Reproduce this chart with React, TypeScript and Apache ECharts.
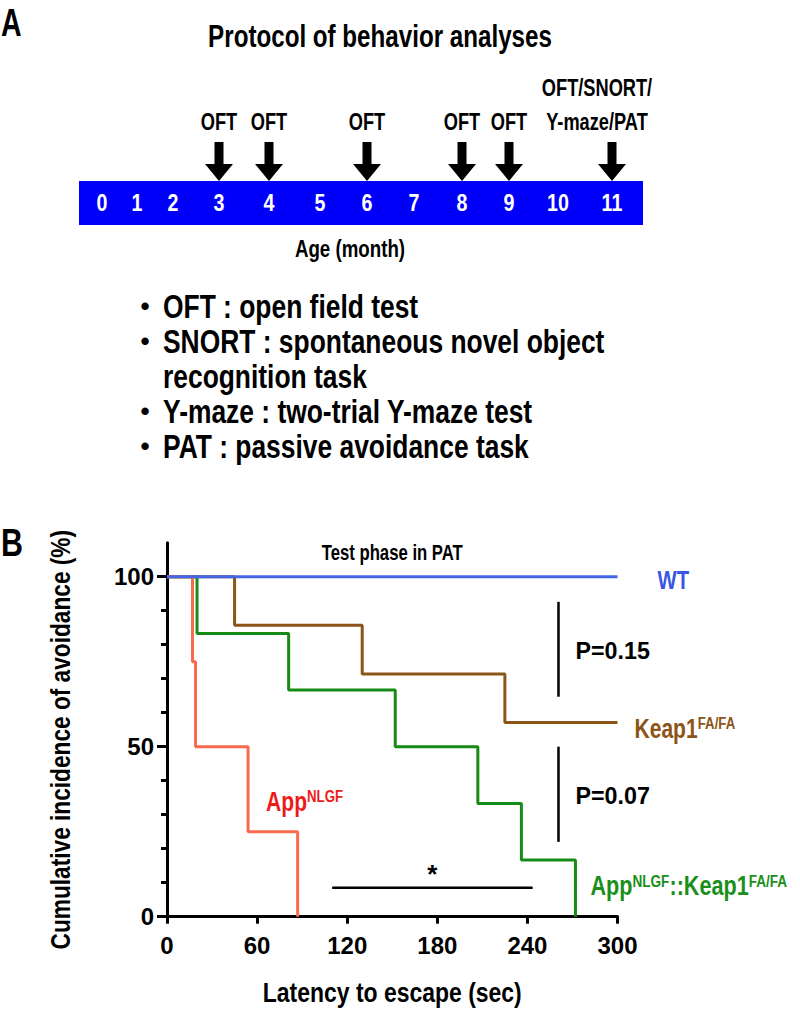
import React, { useEffect, useRef } from 'react';
import * as echarts from 'echarts';

// ---------- Data ----------
const MONTHS = ['0', '1', '2', '3', '4', '5', '6', '7', '8', '9', '10', '11'];
const TEST_MONTH_INDEX = [3, 4, 6, 8, 9, 11];
const TEST_LABELS = [['OFT'], ['OFT'], ['OFT'], ['OFT'], ['OFT'], ['OFT/SNORT/', 'Y-maze/PAT']];
const BULLETS = [
  ['OFT : open field test'],
  ['SNORT : spontaneous novel object', 'recognition task'],
  ['Y-maze : two-trial Y-maze test'],
  ['PAT : passive avoidance task'],
];
const X_TICKS = [0, 60, 120, 180, 240, 300];
const Y_MAJOR = [0, 50, 100];
const Y_MINOR = [10, 20, 30, 40, 60, 70, 80, 90];

const WT_T = [0, 300];
const WT_V = [100, 100];
const KEAP_T = [0, 45, 130, 225, 300];
const KEAP_V = [100, 85.7, 71.4, 57.1, 57.1];
const DBL_T = [0, 20, 81, 152, 207, 236, 272];
const DBL_V = [100, 83.3, 66.7, 50, 33.3, 16.7, 0];
const APP_T = [0, 17, 19, 54, 87];
const APP_V = [100, 75, 50, 25, 0];

const P_LABELS = ['P=0.15', 'P=0.07'];
const STAR = '*';

// ---------- Layout ----------
const MONTH_X = [102, 137, 173, 219, 269, 320, 367, 414, 462, 509, 558, 612];
const BULLET_Y = [306, 341, 376, 411, 446];

const WIDE = "'Liberation Sans', Arial, sans-serif";
const NARROW_SCALE = 0.78;

const C_WT = '#4566e6';
const C_KEAP = '#8c5417';
const C_DBL = '#168c16';
const C_APP = '#fc6a4e';

const zip = (a: number[], b: number[]) => a.map((v, i) => [v, b[i]]);

function txt(x: number, y: number, text: string, opts: any = {}) {
  const narrow = opts.narrow !== false;
  return {
    type: 'text',
    x,
    y,
    rotation: opts.rotation || 0,
    scaleX: narrow ? (opts.sx || NARROW_SCALE) : 1,
    silent: true,
    style: {
      text,
      fill: opts.fill || '#000',
      fontWeight: 'bold',
      fontSize: opts.size || 24,
      fontFamily: WIDE,
      align: opts.align || 'left',
      verticalAlign: opts.va || 'middle',
      rich: opts.rich,
    },
  };
}

function supRich(color: string, base = 27, sup = 17) {
  return {
    b: { fontSize: base, fontFamily: WIDE, fontWeight: 'bold', fill: color, color, lineHeight: 28, verticalAlign: 'middle' },
    s: { fontSize: sup, fontFamily: WIDE, fontWeight: 'bold', fill: color, color, lineHeight: 20, verticalAlign: 'top' },
  };
}

function panelA() {
  const g: any[] = [];
  g.push(txt(1, 4, 'A', { size: 38, va: 'top', sx: 0.75 }));
  g.push(txt(380, 36, 'Protocol of behavior analyses', { size: 31, align: 'center' }));
  TEST_MONTH_INDEX.forEach((mi, i) => {
    const cx = MONTH_X[mi];
    const lines = TEST_LABELS[i];
    const lx = lines.length > 1 ? cx - 15 : cx;
    lines.forEach((l, j) => {
      const y = 122 - (lines.length - 1 - j) * 34;
      g.push(txt(lx, y, l, { size: 24, align: 'center', sx: 0.76 }));
    });
    g.push({
      type: 'polygon',
      silent: true,
      shape: {
        points: [
          [cx - 4.5, 142], [cx + 4.5, 142], [cx + 4.5, 164], [cx + 14, 164],
          [cx, 181], [cx - 14, 164], [cx - 4.5, 164],
        ],
      },
      style: { fill: '#000' },
    });
  });
  g.push({ type: 'rect', silent: true, shape: { x: 79, y: 181, width: 564, height: 44 }, style: { fill: '#0000fa' } });
  MONTHS.forEach((m, i) => g.push(txt(MONTH_X[i], 203, m, { size: 24, align: 'center', fill: '#fff', sx: 0.82 })));
  g.push(txt(350, 249, 'Age (month)', { size: 24, align: 'center' }));
  let row = 0;
  BULLETS.forEach((lines) => {
    lines.forEach((l, j) => {
      if (j === 0) g.push(txt(145, BULLET_Y[row], '•', { size: 26, align: 'center', narrow: false }));
      g.push(txt(163, BULLET_Y[row], l, { size: 33, sx: 0.8 }));
      row++;
    });
  });
  g.push(txt(1, 524, 'B', { size: 38, va: 'top', sx: 0.8 }));
  return g;
}

export default function App() {
  const ref = useRef<HTMLDivElement>(null);
  useEffect(() => {
    document.body.style.margin = '0';
    if (!ref.current) return;
    const chart = echarts.init(ref.current, undefined, { renderer: 'svg' });
    const lineSeries = (name: string, t: number[], v: number[], color: string) => ({
      name,
      type: 'line',
      step: 'end',
      data: zip(t, v),
      symbol: 'none',
      silent: true,
      lineStyle: { color, width: 3 },
      xAxisIndex: 0,
      yAxisIndex: 0,
    });
    const tickLabel = { fontFamily: WIDE, fontWeight: 'bold', fontSize: 24, color: '#000' };
    chart.setOption({
      animation: false,
      grid: { left: 167, right: 182.5, top: 542.7, bottom: 96.3, containLabel: false },
      xAxis: {
        type: 'value',
        min: 0,
        max: 300,
        interval: 60,
        axisLine: { show: true, onZero: false, lineStyle: { color: '#000', width: 3 } },
        axisTick: { show: true, length: 7, lineStyle: { color: '#000', width: 3 }, customValues: X_TICKS },
        axisLabel: { ...tickLabel, margin: 17, customValues: X_TICKS },
        splitLine: { show: false },
      },
      yAxis: [
        {
          type: 'value',
          min: 0,
          max: 110,
          axisLine: { show: true, onZero: false, lineStyle: { color: '#000', width: 3 } },
          axisTick: { show: true, length: 10, lineStyle: { color: '#000', width: 3 }, customValues: Y_MAJOR },
          axisLabel: { ...tickLabel, margin: 13, customValues: Y_MAJOR },
          splitLine: { show: false },
        },
        {
          type: 'value',
          min: 0,
          max: 110,
          position: 'left',
          axisLine: { show: false },
          axisTick: { show: true, length: 6, lineStyle: { color: '#000', width: 3 }, customValues: Y_MINOR },
          axisLabel: { show: false },
          splitLine: { show: false },
        },
      ],
      series: [
        lineSeries('Keap1', KEAP_T, KEAP_V, C_KEAP),
        lineSeries('AppNLGF::Keap1', DBL_T, DBL_V, C_DBL),
        lineSeries('AppNLGF', APP_T, APP_V, C_APP),
        lineSeries('WT', WT_T, WT_V, C_WT),
      ],
    });

    const px = (x: number, y: number) => chart.convertToPixel({ gridIndex: 0 }, [x, y]) as number[];
    const g = panelA();
    const top = px(150, 110);
    const bottom = px(150, 0);
    const left = px(0, 55);
    g.push(txt(top[0], top[1] + 9, 'Test phase in PAT', { size: 22, align: 'center', sx: 0.76 }));
    g.push(txt(bottom[0], bottom[1] + 75, 'Latency to escape (sec)', { size: 28, align: 'center', sx: 0.82 }));
    g.push({ ...txt(60, left[1] + 10, 'Cumulative incidence of avoidance (%)', { size: 27, align: 'center', sx: 0.84 }), rotation: Math.PI / 2 });
    // series labels
    const wt = px(300, 100);
    g.push(txt(wt[0] + 40, wt[1] + 3, 'WT', { size: 26, fill: '#3a55e0' }));
    const kp = px(300, 57.1);
    g.push(txt(kp[0] + 17, kp[1] + 6, '{b|Keap1}{s|FA/FA}', { rich: supRich(C_KEAP) }));
    const ap = px(66, 34);
    g.push(txt(ap[0], ap[1], '{b|App}{s|NLGF}', { rich: supRich('#ee1b1b') }));
    const db = px(282, 9);
    g.push(txt(db[0], db[1], '{b|App}{s|NLGF}{b|::Keap1}{s|FA/FA}', { rich: supRich('#1a8f1a'), sx: 0.8 }));
    // significance bars
    const bars = [[92.6, 64.7], [50, 22]];
    bars.forEach((b, i) => {
      const p1 = px(260.7, b[0]);
      const p2 = px(260.7, b[1]);
      g.push({ type: 'line', silent: true, shape: { x1: p1[0], y1: p1[1], x2: p2[0], y2: p2[1] }, style: { stroke: '#000', lineWidth: 2.5 } });
      g.push(txt(p1[0] + 17, (p1[1] + p2[1]) / 2 + 2, P_LABELS[i], { size: 24, sx: 0.97 }));
    });
    const s1 = px(110, 8.5);
    const s2 = px(243.5, 8.5);
    g.push({ type: 'line', silent: true, shape: { x1: s1[0], y1: s1[1], x2: s2[0], y2: s2[1] }, style: { stroke: '#000', lineWidth: 2.5 } });
    g.push(txt((s1[0] + s2[0]) / 2, s1[1] - 14, STAR, { size: 26, align: 'center', narrow: false }));
    chart.setOption({ graphic: g });
    return () => chart.dispose();
  }, []);
  return <div ref={ref} style={{ width: 800, height: 1013 }} />;
}
